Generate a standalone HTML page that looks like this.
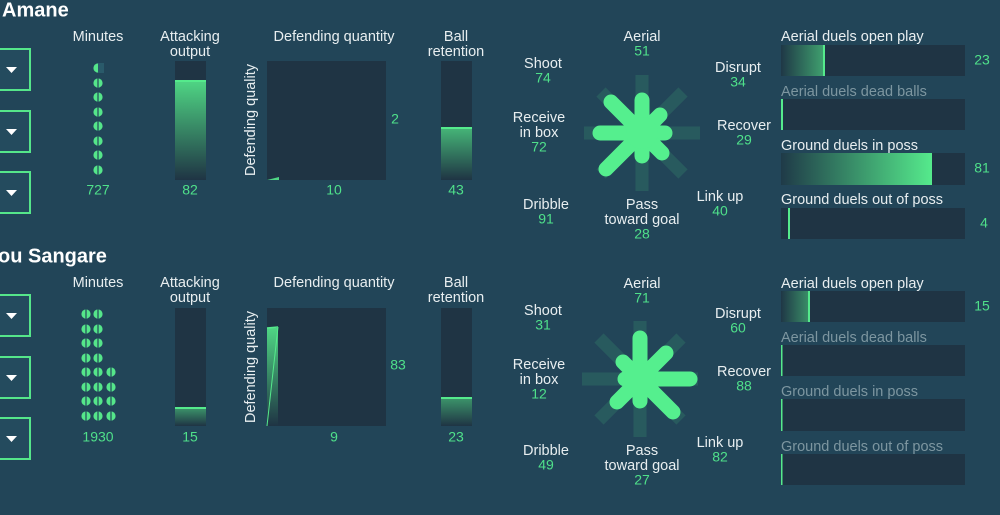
<!DOCTYPE html>
<html><head><meta charset="utf-8"><style>
html,body{margin:0;padding:0;background:#224558;}
svg{display:block;font-family:"Liberation Sans",sans-serif;}
.w{fill:#e8eef0;font-size:14.5px;text-anchor:middle;dominant-baseline:middle}
.g{fill:#4fe08a;font-size:14px;text-anchor:middle;dominant-baseline:middle}
.l{fill:#e8eef0;font-size:14.5px;dominant-baseline:middle}
.gr{fill:#7d96a0;font-size:14.5px;dominant-baseline:middle}
</style></head><body>
<svg width="1000" height="515" viewBox="0 0 1000 515">
<defs>
<linearGradient id="vg" x1="0" y1="1" x2="0" y2="0"><stop offset="0" stop-color="#1f3444"/><stop offset="1" stop-color="#4fd584"/></linearGradient>
<linearGradient id="hg" x1="0" y1="0" x2="1" y2="0"><stop offset="0" stop-color="#1f3a48"/><stop offset="1" stop-color="#55ea8c"/></linearGradient>
<g id="ball"><circle r="4.6" fill="#55e68a"/><line x1="0" y1="-4.6" x2="0" y2="4.6" stroke="#224558" stroke-width="1.2"/></g>
<g id="track" stroke="#55ea8c" stroke-opacity="0.13" stroke-width="13">
<line x1="0" y1="-58" x2="0" y2="58"/><line x1="-58" y1="0" x2="58" y2="0"/>
<line x1="-41" y1="-41" x2="41" y2="41"/><line x1="-41" y1="41" x2="41" y2="-41"/></g>
<g id="dd"><rect x="-10" y="0" width="40" height="41" fill="#244b5e" stroke="#55e68a" stroke-width="2"/><polygon points="6,18 17,18 11.5,24" fill="#fff"/></g>
</defs>

<text x="2" y="11" fill="#fff" font-size="20" font-weight="bold" dominant-baseline="middle">Amane</text>
<use href="#dd" y="49"/><use href="#dd" y="111"/><use href="#dd" y="172"/>
<text class="w" x="98" y="37">Minutes</text>
<circle cx="98" cy="68" r="4.6" fill="#55e68a"/><rect x="98" y="63" width="6" height="10" fill="#2a5a6a"/>
<use href="#ball" x="98" y="83"/><use href="#ball" x="98" y="97"/><use href="#ball" x="98" y="112"/><use href="#ball" x="98" y="126"/><use href="#ball" x="98" y="141"/><use href="#ball" x="98" y="155"/><use href="#ball" x="98" y="170"/>
<text class="g" x="98" y="191">727</text>
<text class="w" x="190" y="37">Attacking</text><text class="w" x="190" y="52">output</text>
<rect x="175" y="61" width="31" height="119" fill="#1f3444"/>
<rect x="175" y="81" width="31" height="99" fill="url(#vg)"/><rect x="175" y="80" width="31" height="2" fill="#55ea8c"/>
<text class="g" x="190" y="191">82</text>
<text class="w" x="334" y="37">Defending quantity</text>
<text class="w" transform="translate(251,120) rotate(-90)">Defending quality</text>
<rect x="267" y="61" width="119" height="119" fill="#1f3444"/>
<polygon points="267,180 279,177 279,180" fill="#4fd584"/>
<text class="g" x="395" y="120">2</text>
<text class="g" x="334" y="191">10</text>
<text class="w" x="456" y="37">Ball</text><text class="w" x="456" y="52">retention</text>
<rect x="441" y="61" width="31" height="119" fill="#1f3444"/>
<rect x="441" y="128" width="31" height="52" fill="url(#vg)" opacity="0.8"/><rect x="441" y="127" width="31" height="2" fill="#55ea8c"/>
<text class="g" x="456" y="191">43</text>

<use href="#track" x="642" y="133"/>
<g stroke="#55ef8e" stroke-width="15" stroke-linecap="round">
<line x1="642" y1="133" x2="642" y2="100"/><line x1="642" y1="133" x2="660" y2="115"/>
<line x1="642" y1="133" x2="665" y2="133"/><line x1="642" y1="133" x2="662" y2="153"/>
<line x1="642" y1="133" x2="642" y2="156"/><line x1="642" y1="133" x2="606" y2="169"/>
<line x1="642" y1="133" x2="600" y2="133"/><line x1="642" y1="133" x2="611" y2="102"/></g>
<circle cx="642" cy="133" r="16" fill="#55ef8e"/>
<text class="w" x="642" y="37">Aerial</text><text class="g" x="642" y="52">51</text>
<text class="w" x="543" y="64">Shoot</text><text class="g" x="543" y="79">74</text>
<text class="w" x="738" y="68">Disrupt</text><text class="g" x="738" y="83">34</text>
<text class="w" x="539" y="118">Receive</text><text class="w" x="539" y="133">in box</text><text class="g" x="539" y="148">72</text>
<text class="w" x="744" y="126">Recover</text><text class="g" x="744" y="141">29</text>
<text class="w" x="546" y="205">Dribble</text><text class="g" x="546" y="220">91</text>
<text class="w" x="642" y="205">Pass</text><text class="w" x="642" y="220">toward goal</text><text class="g" x="642" y="235">28</text>
<text class="w" x="720" y="197">Link up</text><text class="g" x="720" y="212">40</text>

<text class="l" x="781" y="37">Aerial duels open play</text>
<rect x="781" y="45" width="184" height="31" fill="#1f3444"/><rect x="781" y="45" width="43" height="31" fill="url(#hg)" opacity="0.6"/><rect x="823" y="45" width="2" height="31" fill="#55ea8c"/>
<text class="g" x="982" y="61">23</text>
<text class="gr" x="781" y="92">Aerial duels dead balls</text>
<rect x="781" y="99" width="184" height="31" fill="#1f3444"/><rect x="781" y="99" width="2" height="31" fill="#55ea8c"/>
<text class="l" x="781" y="146">Ground duels in poss</text>
<rect x="781" y="153" width="184" height="32" fill="#1f3444"/><rect x="781" y="153" width="151" height="32" fill="url(#hg)"/>
<text class="g" x="982" y="169">81</text>
<text class="l" x="781" y="200">Ground duels out of poss</text>
<rect x="781" y="208" width="184" height="31" fill="#1f3444"/><rect x="788" y="208" width="2" height="31" fill="#55ea8c"/>
<text class="g" x="984" y="224">4</text>

<text x="-2" y="257" fill="#fff" font-size="20" font-weight="bold" dominant-baseline="middle">ou Sangare</text>
<use href="#dd" y="295"/><use href="#dd" y="357"/><use href="#dd" y="418"/>
<text class="w" x="98" y="283">Minutes</text>
<use href="#ball" x="86" y="314"/><use href="#ball" x="98" y="314"/>
<use href="#ball" x="86" y="329"/><use href="#ball" x="98" y="329"/>
<use href="#ball" x="86" y="343"/><use href="#ball" x="98" y="343"/>
<use href="#ball" x="86" y="358"/><use href="#ball" x="98" y="358"/>
<use href="#ball" x="86" y="372"/><use href="#ball" x="98" y="372"/><use href="#ball" x="111" y="372"/>
<use href="#ball" x="86" y="387"/><use href="#ball" x="98" y="387"/><use href="#ball" x="111" y="387"/>
<use href="#ball" x="86" y="401"/><use href="#ball" x="98" y="401"/><use href="#ball" x="111" y="401"/>
<use href="#ball" x="86" y="416"/><use href="#ball" x="98" y="416"/><use href="#ball" x="111" y="416"/>
<text class="g" x="98" y="438">1930</text>
<text class="w" x="190" y="283">Attacking</text><text class="w" x="190" y="298">output</text>
<rect x="175" y="308" width="31" height="118" fill="#1f3444"/>
<rect x="175" y="408" width="31" height="18" fill="url(#vg)" opacity="0.6"/><rect x="175" y="407" width="31" height="2" fill="#55ea8c"/>
<text class="g" x="190" y="438">15</text>
<text class="w" x="334" y="283">Defending quantity</text>
<text class="w" transform="translate(251,367) rotate(-90)">Defending quality</text>
<rect x="267" y="308" width="119" height="118" fill="#1f3444"/>
<rect x="267" y="328" width="11" height="98" fill="url(#vg)"/>
<line x1="267" y1="426" x2="278" y2="327" stroke="#55ea8c" stroke-width="1"/><line x1="267" y1="328" x2="278" y2="327" stroke="#55ea8c" stroke-width="1.5"/>
<text class="g" x="398" y="366">83</text>
<text class="g" x="334" y="438">9</text>
<text class="w" x="456" y="283">Ball</text><text class="w" x="456" y="298">retention</text>
<rect x="441" y="308" width="31" height="118" fill="#1f3444"/>
<rect x="441" y="398" width="31" height="28" fill="url(#vg)" opacity="0.6"/><rect x="441" y="397" width="31" height="2" fill="#55ea8c"/>
<text class="g" x="456" y="438">23</text>

<use href="#track" x="640" y="379"/>
<g stroke="#55ef8e" stroke-width="15" stroke-linecap="round">
<line x1="640" y1="379" x2="640" y2="338"/><line x1="640" y1="379" x2="666" y2="353"/>
<line x1="640" y1="379" x2="690" y2="379"/><line x1="640" y1="379" x2="673" y2="412"/>
<line x1="640" y1="379" x2="640" y2="401"/><line x1="640" y1="379" x2="617" y2="402"/>
<line x1="640" y1="379" x2="625" y2="379"/><line x1="640" y1="379" x2="623" y2="362"/></g>
<circle cx="640" cy="379" r="16" fill="#55ef8e"/>
<text class="w" x="642" y="284">Aerial</text><text class="g" x="642" y="299">71</text>
<text class="w" x="543" y="311">Shoot</text><text class="g" x="543" y="326">31</text>
<text class="w" x="738" y="314">Disrupt</text><text class="g" x="738" y="329">60</text>
<text class="w" x="539" y="365">Receive</text><text class="w" x="539" y="380">in box</text><text class="g" x="539" y="395">12</text>
<text class="w" x="744" y="372">Recover</text><text class="g" x="744" y="387">88</text>
<text class="w" x="546" y="451">Dribble</text><text class="g" x="546" y="466">49</text>
<text class="w" x="642" y="451">Pass</text><text class="w" x="642" y="466">toward goal</text><text class="g" x="642" y="481">27</text>
<text class="w" x="720" y="443">Link up</text><text class="g" x="720" y="458">82</text>

<text class="l" x="781" y="284">Aerial duels open play</text>
<rect x="781" y="291" width="184" height="31" fill="#1f3444"/><rect x="781" y="291" width="28" height="31" fill="url(#hg)" opacity="0.5"/><rect x="808" y="291" width="2" height="31" fill="#55ea8c"/>
<text class="g" x="982" y="307">15</text>
<text class="gr" x="781" y="338">Aerial duels dead balls</text>
<rect x="781" y="345" width="184" height="31" fill="#1f3444"/><rect x="781" y="345" width="1.5" height="31" fill="#55ea8c"/>
<text class="gr" x="781" y="392">Ground duels in poss</text>
<rect x="781" y="399" width="184" height="32" fill="#1f3444"/><rect x="781" y="399" width="1.5" height="32" fill="#55ea8c"/>
<text class="gr" x="781" y="447">Ground duels out of poss</text>
<rect x="781" y="454" width="184" height="31" fill="#1f3444"/><rect x="781" y="454" width="1.5" height="31" fill="#55ea8c"/>
</svg>
</body></html>
